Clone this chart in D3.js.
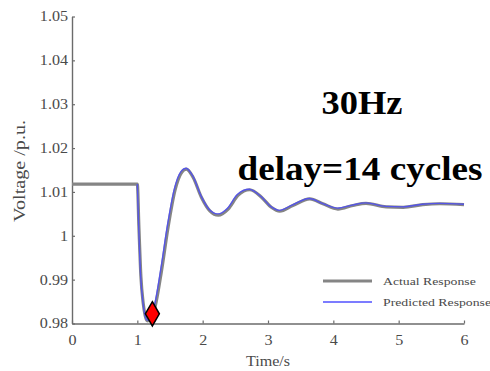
<!DOCTYPE html>
<html>
<head>
<meta charset="utf-8">
<script src="https://cdn.jsdelivr.net/npm/d3@7.9.0/dist/d3.min.js"></script>
<style>
  html, body { margin: 0; padding: 0; background: #fff; }
  svg { display: block; }
</style>
</head>
<body>
<svg id="chart" width="490" height="371" font-family="Liberation Serif"></svg>
<script>
// actual response (gray)
const actualTime = [0, 1.0, 1.024, 1.055, 1.09, 1.12, 1.155, 1.2, 1.27, 1.37,
  1.47, 1.575, 1.68, 1.75, 1.855, 1.98, 2.11, 2.24, 2.39, 2.54,
  2.72, 2.9, 3.05, 3.18, 3.38, 3.64, 3.84, 4.07, 4.3, 4.5,
  4.81, 5.07, 5.37, 5.63, 6.0];
const actualVoltage = [1.0118, 1.0118, 1.002, 0.9906, 0.9846, 0.9818, 0.9806, 0.9808, 0.9837, 0.992,
  1.0019, 1.0103, 1.0145, 1.0152, 1.0133, 1.0088, 1.0057, 1.0047, 1.0061, 1.0092,
  1.0105, 1.0088, 1.0065, 1.0056, 1.0069, 1.0084, 1.0073, 1.0061, 1.0069, 1.0074,
  1.0066, 1.0065, 1.0071, 1.0073, 1.0071];

// predicted response (blue)
const predictedTime = [1.0, 1.02, 1.05, 1.085, 1.115, 1.15, 1.195, 1.26, 1.36, 1.46,
  1.565, 1.67, 1.745, 1.85, 1.975, 2.1, 2.23, 2.38, 2.53, 2.71,
  2.89, 3.04, 3.17, 3.37, 3.63, 3.83, 4.06, 4.29, 4.5, 4.8,
  5.06, 5.36, 5.62, 6.0];
const predictedVoltage = [1.0118, 1.0025, 0.991, 0.985, 0.982, 0.9808, 0.981, 0.984, 0.9925, 1.0023,
  1.0106, 1.0147, 1.0154, 1.0136, 1.0091, 1.0060, 1.0050, 1.0063, 1.0094, 1.0106,
  1.0090, 1.0067, 1.0058, 1.0070, 1.0085, 1.0074, 1.0063, 1.0070, 1.0075, 1.0067,
  1.0066, 1.0072, 1.0074, 1.0072];

// red marker
const markerTime = [1.23];
const markerVoltage = [0.9822];

const xTicks = [0, 1, 2, 3, 4, 5, 6];
const yTicks = [0.98, 0.99, 1.0, 1.01, 1.02, 1.03, 1.04, 1.05];
const yTickLabels = ["0.98", "0.99", "1", "1.01", "1.02", "1.03", "1.04", "1.05"];

const FONT = "Liberation Serif";
const svg = d3.select("#chart");

const x = d3.scaleLinear().domain([0, 6]).range([72, 464]);
const y = d3.scaleLinear().domain([0.98, 1.05]).range([323.5, 16.5]);

// widen text horizontally like the (stretched) source image
function stretch(sel, k) {
  sel.each(function() {
    const w = this.getComputedTextLength();
    d3.select(this).attr("textLength", w * k).attr("lengthAdjust", "spacingAndGlyphs");
  });
}

// axes
const yAxis = svg.append("g")
  .attr("transform", `translate(${x(0)},0)`)
  .call(d3.axisLeft(y).tickValues(yTicks).tickSize(-3).tickPadding(4)
    .tickFormat((d, i) => yTickLabels[i]).tickSizeOuter(0));

const xAxis = svg.append("g")
  .attr("transform", `translate(0,${y(0.98)})`)
  .call(d3.axisBottom(x).tickValues(xTicks).tickSize(-3).tickPadding(12)
    .tickFormat(d3.format("d")).tickSizeOuter(0));

[yAxis, xAxis].forEach(ax => {
  ax.attr("font-family", FONT).attr("font-size", 14);
  ax.select(".domain").attr("stroke", "#6b6b6b").attr("stroke-width", 1.4);
  ax.selectAll(".tick line").attr("stroke", "#6b6b6b").attr("stroke-width", 1.2);
  ax.selectAll(".tick text").attr("fill", "#4a4a4a");
});
stretch(yAxis.selectAll(".tick text"), 1.15);
stretch(xAxis.selectAll(".tick text"), 1.15);

// axis titles
svg.append("text")
  .attr("x", 268).attr("y", 366)
  .attr("text-anchor", "middle")
  .attr("font-family", FONT)
  .attr("font-size", 14)
  .attr("fill", "#4a4a4a")
  .text("Time/s")
  .call(s => stretch(s, 1.15));

svg.append("text")
  .attr("transform", "translate(25,171) rotate(-90)")
  .attr("text-anchor", "middle")
  .attr("font-family", FONT)
  .attr("font-size", 16)
  .attr("fill", "#4a4a4a")
  .text("Voltage /p.u.")
  .call(s => s.attr("textLength", 102).attr("lengthAdjust", "spacingAndGlyphs"));

// lines
const line = d3.line()
  .x(d => x(d[0]))
  .y(d => y(d[1]))
  .curve(d3.curveMonotoneX);

const actual = actualTime.map((t, i) => [t, actualVoltage[i]]);
const predicted = predictedTime.map((t, i) => [t, predictedVoltage[i]]);

svg.append("path")
  .datum(actual)
  .attr("fill", "none")
  .attr("stroke", "#858585")
  .attr("stroke-width", 3.2)
  .attr("d", line);

svg.append("path")
  .datum(predicted)
  .attr("fill", "none")
  .attr("stroke", "#4848ff")
  .attr("stroke-opacity", 0.8)
  .attr("stroke-width", 1.4)
  .attr("d", line);

// marker
svg.selectAll(".marker")
  .data(markerTime.map((t, i) => [t, markerVoltage[i]]))
  .enter().append("path")
  .attr("class", "marker")
  .attr("transform", d => `translate(${x(d[0])},${y(d[1])})`)
  .attr("d", d3.symbol().type(d3.symbolDiamond).size(170))
  .attr("fill", "#ff0000")
  .attr("stroke", "#000")
  .attr("stroke-width", 1.5);

// annotations
svg.append("text")
  .attr("x", 362).attr("y", 114)
  .attr("text-anchor", "middle")
  .attr("font-family", FONT)
  .attr("font-size", 34)
  .attr("font-weight", "bold")
  .attr("fill", "#000")
  .text("30Hz")
  .call(s => s.attr("textLength", 81).attr("lengthAdjust", "spacingAndGlyphs"));

svg.append("text")
  .attr("x", 360).attr("y", 180)
  .attr("text-anchor", "middle")
  .attr("font-family", FONT)
  .attr("font-size", 34)
  .attr("font-weight", "bold")
  .attr("fill", "#000")
  .text("delay=14 cycles")
  .call(s => s.attr("textLength", 245).attr("lengthAdjust", "spacingAndGlyphs"));

// legend
const legendItems = [
  { label: "Actual Response", color: "#858585", width: 3.2, opacity: 1 },
  { label: "Predicted Response", color: "#5050ff", width: 1.8, opacity: 0.75 }
];

const legend = svg.selectAll(".legend")
  .data(legendItems)
  .enter().append("g")
  .attr("class", "legend")
  .attr("transform", (d, i) => `translate(323,${281 + i * 21})`);

legend.append("line")
  .attr("x1", 0).attr("x2", 49)
  .attr("stroke", d => d.color)
  .attr("stroke-width", d => d.width)
  .attr("stroke-opacity", d => d.opacity);

legend.append("text")
  .attr("x", 60).attr("y", 4)
  .attr("font-family", FONT)
  .attr("font-size", 11)
  .attr("fill", "#4a4a4a")
  .text(d => d.label)
  .call(s => stretch(s, 1.25));
</script>
</body>
</html>
